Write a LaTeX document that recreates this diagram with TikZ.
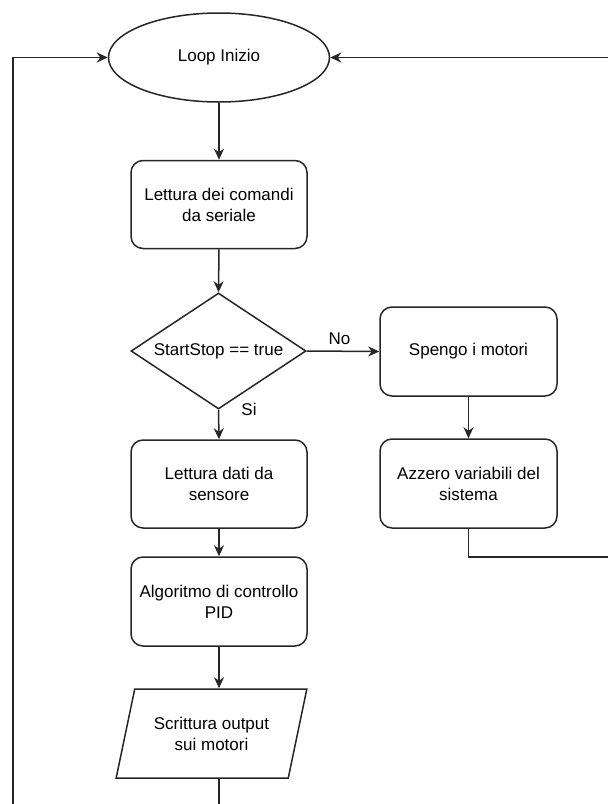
\documentclass[tikz,border=0pt]{standalone}
\usepackage{fontspec}
\setmainfont{Liberation Sans}
\usetikzlibrary{arrows.meta,shapes.geometric}
\begin{document}
\begin{tikzpicture}[x=1pt,y=-1pt,
  every node/.style={font=\fontsize{17}{21}\selectfont, align=center, text=black},
  ln/.style={line width=1.5pt, draw=black!85},
  arr/.style={ln, -{Stealth[length=11pt,width=10pt,inset=3.5pt]}},
  proc/.style={ln, rectangle, rounded corners=12pt, minimum width=176pt, minimum height=88pt, inner sep=0pt},
  term/.style={ln, ellipse, minimum width=221pt, minimum height=89pt, inner sep=0pt},
  decis/.style={ln, diamond, minimum width=175pt, minimum height=116pt, inner sep=0pt, aspect=1.5},
  iobox/.style={ln, trapezium, trapezium left angle=67.4, trapezium right angle=112.6, trapezium stretches=true, minimum width=191pt, minimum height=89pt, inner sep=0pt},
  lbl/.style={font=\fontsize{17}{21}\selectfont}
]
\useasboundingbox (0,0) rectangle (608,804);
\clip (0,0) rectangle (608,804);

\node[term] (start) at (219,57.5) {Loop Inizio};
\node[proc] (cmd) at (219,204.5) {Lettura dei comandi\\da seriale};
\node[decis] (dec) at (218.5,351) {StartStop == true};
\node[proc, minimum width=177pt, minimum height=89pt] (stop) at (468.5,351.5) {Spengo i motori};
\node[proc, minimum width=177pt, minimum height=89pt] (zero) at (468.5,483.5) {Azzero variabili del\\sistema};
\node[proc] (data) at (219,484) {Lettura dati da\\sensore};
\node[proc, minimum height=89pt] (pid) at (219,601.5) {Algoritmo di controllo\\PID};
\node[iobox] (out) at (211.5,733.5) {Scrittura output\\sui motori};

\coordinate (lb) at (13,810);
\coordinate (rt) at (612,57.5);
\coordinate (ob) at (219,810);
\coordinate (zr) at (612,557);

\draw[arr] (lb) |- (start.west);
\draw[arr] (rt) -- (start.east);
\draw[arr] (start.south) -- (cmd.north);
\draw[arr] (cmd.south) -- (dec.north);
\draw[arr] (dec.east) -- node[lbl, above, pos=0.45, yshift=2pt] {No} (stop.west);
\draw[arr] (dec.south) -- (data.north);
\node[lbl] (si) at (249,409) {Si};
\draw[arr] (data.south) -- (pid.north);
\draw[arr] (pid.south) -- (pid.south |- out.north);
\draw[ln] (pid.south |- out.south) -- (ob);
\draw[arr] (stop.south) -- (zero.north);
\draw[ln] (zero.south) |- (zr);
\end{tikzpicture}
\end{document}
